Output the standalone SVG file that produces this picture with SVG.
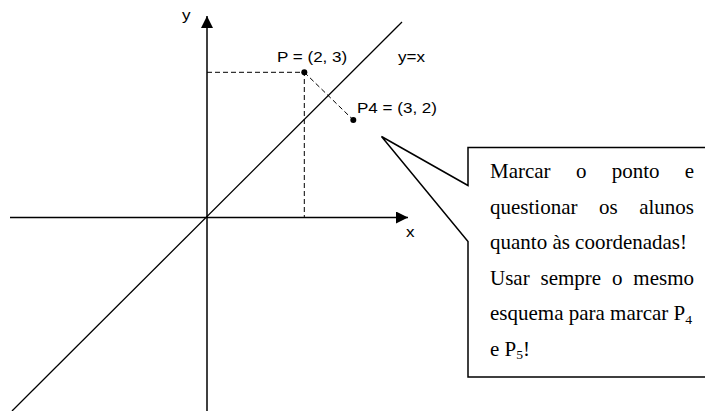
<svg xmlns="http://www.w3.org/2000/svg" width="705" height="411" viewBox="0 0 705 411">
<style>
.ax{stroke:#000;stroke-width:1.5;fill:none}
.dash{stroke:#000;stroke-width:1;stroke-dasharray:5,3;fill:none}
.lbl{font-family:"Liberation Sans",Arial,sans-serif;font-size:15.5px;fill:#000}
.ct{font-family:"Liberation Serif","Times New Roman",serif;font-size:20px;fill:#000}
.e{text-anchor:end}
</style>
<defs>
<marker id="ah" viewBox="0 0 12 12" refX="12" refY="6" markerWidth="12" markerHeight="12" markerUnits="userSpaceOnUse" orient="auto">
<path d="M0,0 L12,6 L0,12 Z" fill="#000"/>
</marker>
</defs>
<rect width="705" height="411" fill="#fff"/>
<g id="axes">
<line class="ax" x1="207" y1="411" x2="207" y2="16" marker-end="url(#ah)"/>
<line class="ax" x1="10" y1="217.5" x2="408" y2="217.5" marker-end="url(#ah)"/>
<text class="lbl" transform="matrix(1.1,0,0,1,182,20)">y</text>
<text class="lbl" transform="matrix(1.1,0,0,1,406,237)">x</text>
</g>
<g id="line-yx">
<line class="ax" style="stroke-width:1.3" x1="12" y1="411" x2="402" y2="22"/>
<text class="lbl" transform="matrix(1.1,0,0,1,398,62)">y=x</text>
</g>
<g id="connectors">
<polyline class="dash" points="207,72.3 304.3,72.3 304.3,217"/>
<line class="dash" x1="304.3" y1="72.3" x2="353.3" y2="120"/>
</g>
<g id="point-P">
<circle cx="304.3" cy="72.3" r="3" fill="#000"/>
<text class="lbl" transform="matrix(1.1,0,0,1,277,62)">P = (2, 3)</text>
</g>
<g id="point-P4">
<circle cx="353.3" cy="120" r="3" fill="#000"/>
<text class="lbl" transform="matrix(1.1,0,0,1,357,113)">P4 = (3, 2)</text>
</g>
<g id="callout">
<path d="M468,185.5 L381.5,136.5 L468,241.5 V377 H708 V147.5 H468 Z" fill="#fff" stroke="#000" stroke-width="1.5" stroke-linejoin="miter"/>
<text class="ct" transform="matrix(1.05,0,0,1,490,178)">Marcar</text>
<text class="ct" transform="matrix(1.05,0,0,1,575.9,178)">o</text>
<text class="ct" transform="matrix(1.05,0,0,1,611.7,178)">ponto</text>
<text class="ct e" transform="matrix(1.05,0,0,1,694,178)">e</text>
<text class="ct" transform="matrix(1.05,0,0,1,490,213.5)">questionar</text>
<text class="ct" transform="matrix(1.05,0,0,1,599,213.5)">os</text>
<text class="ct e" transform="matrix(1.05,0,0,1,694,213.5)">alunos</text>
<text class="ct" transform="matrix(1.05,0,0,1,490,249)">quanto às coordenadas!</text>
<text class="ct" transform="matrix(1.05,0,0,1,490,284.5)">Usar</text>
<text class="ct" transform="matrix(1.05,0,0,1,540.5,284.5)">sempre</text>
<text class="ct" transform="matrix(1.05,0,0,1,612,284.5)">o</text>
<text class="ct e" transform="matrix(1.05,0,0,1,694,284.5)">mesmo</text>
<text class="ct" transform="matrix(1.05,0,0,1,490,320)">esquema para marcar P<tspan font-size="13" dy="3.5">4</tspan></text>
<text class="ct" transform="matrix(1.05,0,0,1,490,355.5)">e P<tspan font-size="13" dy="3.5">5</tspan><tspan dy="-3.5">!</tspan></text>
</g>
</svg>
